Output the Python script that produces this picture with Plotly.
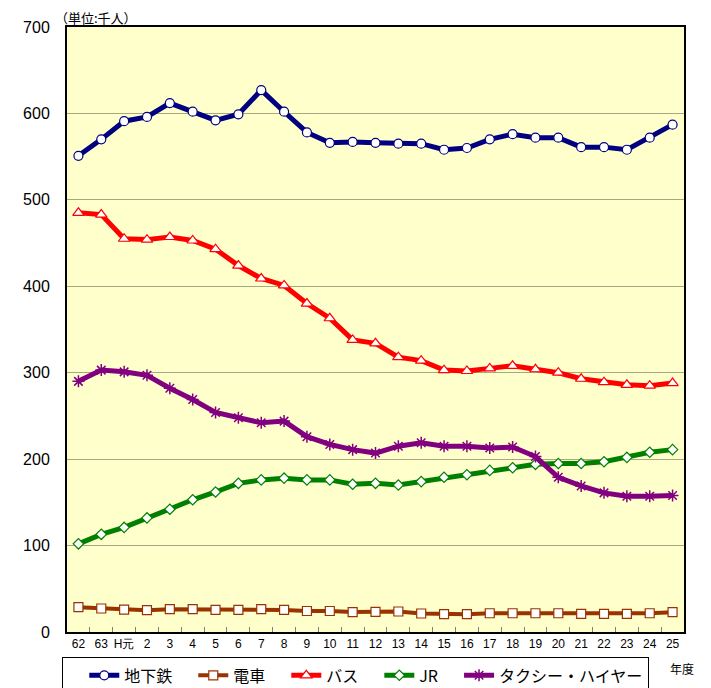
import plotly.graph_objects as go

years = ["62", "63", "H元", "2", "3", "4", "5", "6", "7", "8", "9", "10", "11", "12",
         "13", "14", "15", "16", "17", "18", "19", "20", "21", "22", "23", "24", "25"]

subway = [551, 570, 591, 596, 612, 602, 592, 599, 627, 602, 578, 566, 567, 566,
          565, 565, 558, 560, 570, 576, 572, 572, 561, 561, 558, 572, 587]
tram = [28.7, 27.2, 26, 25.2, 26.4, 26.4, 25.5, 25.5, 26.4, 25.5, 24.3, 24.3, 23.1, 23.4,
        23.7, 21.4, 20.6, 20.6, 21.7, 21.7, 21.7, 21.7, 20.9, 20.9, 20.9, 21.7, 22.9]
bus = [485, 483, 455, 454, 457, 453, 443, 424, 409, 401, 380, 363, 338, 334,
       318, 314, 303, 302, 305, 308, 304, 300, 293, 289, 286, 285, 288]
jr = [102, 113, 121, 132, 142, 153, 162, 172, 176, 178, 176, 176, 171, 172,
      170, 174, 179, 182, 187, 190, 194, 195, 195, 197, 202, 208, 211]
taxi = [290, 303, 301, 297, 282, 269, 254, 248, 242, 244, 226, 217, 211, 207,
        215, 219, 215, 215, 213, 214, 203, 179, 169, 161, 157, 157, 158]

series_names = ["地下鉄", "電車", "バス", "JR", "タクシー・ハイヤー"]
y_ticks = [0, 100, 200, 300, 400, 500, 600, 700]

JP = "Noto Sans CJK JP"
NUM = "Liberation Sans"
PAD = "\u2003"  # em space for legend entry spacing

fig = go.Figure()

def add(name, vals, color, symbol, size, lw, fill="white", mlw=1.2, pad=True):
    fig.add_trace(go.Scatter(
        x=years, y=vals, name=name + (PAD if pad else ""), mode="lines+markers",
        line=dict(color=color, width=lw),
        marker=dict(symbol=symbol, size=size, color=fill,
                    line=dict(color=color, width=mlw)),
    ))

add(series_names[0], subway, "#000080", "circle", 9, 5)
add(series_names[1], tram, "#993300", "square", 9, 4)
add(series_names[2], bus, "#FF0000", "triangle-up", 10, 5)
add(series_names[3], jr, "#008000", "diamond", 8, 5)
add(series_names[4], taxi, "#800080", "asterisk", 10, 5, fill="#800080", mlw=1.5, pad=False)

# the page body adds an 8px offset; compensate in figure size/margins
fig.update_layout(
    width=703, height=680,
    margin=dict(l=59, r=27, t=19, b=56, autoexpand=False),
    paper_bgcolor="white",
    plot_bgcolor="#FFFFCC",
    showlegend=True,
    legend=dict(
        orientation="h", x=-0.008, xanchor="left", y=-0.042, yanchor="top",
        bgcolor="white", bordercolor="black", borderwidth=1,
        font=dict(family=JP, size=16, color="black"),
        itemwidth=30,
        title=dict(text="\u2002\u2009", side="left", font=dict(family=JP, size=16)),
    ),
    xaxis=dict(
        type="category", tickson="boundaries", ticks="inside", ticklen=5,
        tickcolor="#808080", showgrid=False, tickangle=0, automargin=False,
        showline=True, linecolor="black", linewidth=2, mirror=True,
        tickfont=dict(family=NUM, size=12, color="black"),
        range=[-0.5, len(years) - 0.5],
    ),
    yaxis=dict(
        range=[0, 700], tickvals=y_ticks, ticktext=[str(v) for v in y_ticks],
        showgrid=True, gridcolor="#A8A880", gridwidth=1, automargin=False,
        showline=True, linecolor="black", linewidth=2, mirror=True,
        ticks="", tickfont=dict(family=NUM, size=16, color="black"),
        ticklabelstandoff=12, zeroline=False,
    ),
    annotations=[
        dict(text="（単位:千人）", xref="paper", yref="paper", x=-0.022, y=1.0149,
             xanchor="left", yanchor="middle", showarrow=False,
             font=dict(family=JP, size=13, color="black")),
        dict(text="年度", xref="paper", yref="paper", x=1.0, y=0, xanchor="left",
             yanchor="top", xshift=-16, yshift=-26, showarrow=False,
             font=dict(family=JP, size=12, color="black")),
    ],
)

fig.write_html("out.html")
